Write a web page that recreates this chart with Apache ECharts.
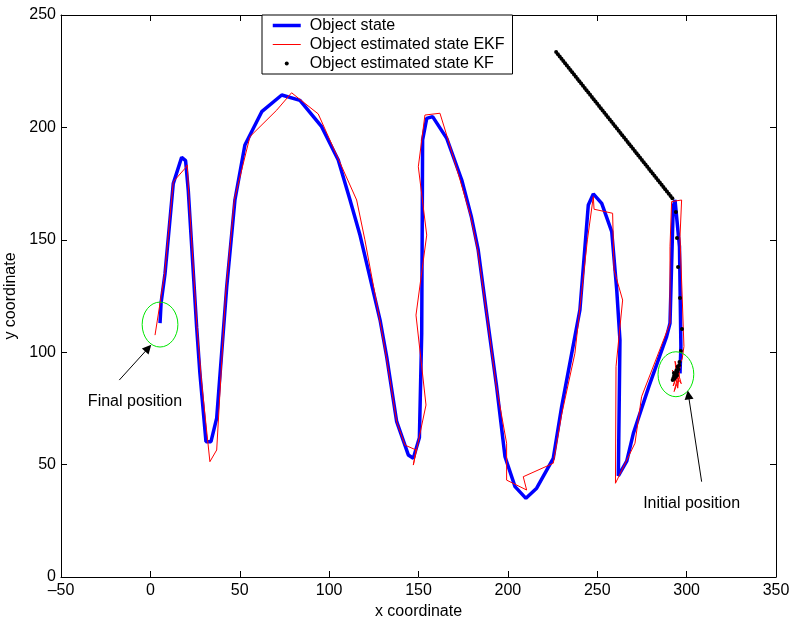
<!DOCTYPE html>
<html><head><meta charset="utf-8">
<script src="https://cdn.jsdelivr.net/npm/echarts@6/dist/echarts.min.js"></script>
<style>html,body{margin:0;padding:0;background:#fff}#c{width:792px;height:623px}</style>
</head><body><div id="c"></div>
<script>
// ---- axis ranges / ticks ----
const xRange = [-50, 350];
const xStep = 50;
const yRange = [0, 250];
const yStep = 50;

// ---- series names ----
const legendNames = ['Object state', 'Object estimated state EKF', 'Object estimated state KF'];

// ---- true object state (from initial to final position) ----
const objectState = [
  [296.3,90.6],[296.8,102.5],[296.0,146.9],[293.5,167.7],[292.5,164.7],[290.7,112.9],[288.8,106.9],
  [279.0,85.0],[270.2,63.9],[266.5,51.5],[261.8,45.0],[262.7,105.4],[260.9,127.7],[258.1,153.6],
  [252.5,166.2],[247.8,170.4],[245.0,165.5],[240.3,118.8],[230.1,75.8],[225.4,52.8],[216.1,39.5],
  [210.1,35.0],[204.0,40.2],[198.4,53.5],[193.7,84.7],[188.1,117.3],[183.4,145.5],[179.5,160.5],
  [174.2,176.6],[165.8,195.1],[157.9,204.8],[154.6,204.0],[152.3,194.4],[151.8,108.4],[150.5,62.0],
  [147.1,52.8],[144.3,54.3],[137.8,69.1],[132.2,98.0],[128.5,114.3],[117.3,152.0],[111.7,167.7],
  [105.1,185.5],[95.8,200.3],[83.7,212.0],[73.5,214.4],[62.3,207.0],[52.9,192.2],[47.3,167.7],
  [42.7,129.0],[37.1,70.7],[33.9,60.2],[31.1,60.2],[27.7,90.7],[25.9,111.0],[21.2,172.0],
  [19.7,185.2],[17.5,186.7],[12.8,175.0],[8.2,135.0],[6.0,122.0],[5.4,112.9]
];

// ---- EKF estimate ----
const ekfState = [
  [294.5,90],[292.5,85],[296.5,94],[293,82.5],[295.5,88],[292,92],[297,86],[293.5,96],[295,84],
  [296,91],[292.5,89],[297.5,97],
  [298.5,102.5],[297.5,125],[296.3,151.4],[297.2,167.7],[291.6,167],[290.7,147],[290.7,112.9],
  [274.8,80.2],[271.1,59.5],[260.2,41.7],[260.5,93.6],[264.2,123.2],[259.4,136.6],[258.6,161.8],
  [248.2,163.6],[247.8,169.2],[244.5,150],[237.5,99.5],[230,72],[225.4,50.6],[208.6,44.6],
  [210.5,38.7],[199.3,43.1],[199.3,59.5],[193.5,85],[188,118],[183,146],[179,161],[172,180],
  [166.6,194.4],[162,206.3],[153.6,205.5],[149.9,182.5],[154.6,152.1],[148.6,116.5],[154.2,76.5],
  [147.1,49.8],[148.6,56.5],[142.4,58.7],[137.8,69],[132,98],[127,120],[120,150],[115.4,167.7],
  [93.9,206],[79,215.4],[70.7,207.7],[55.7,195.9],[47,168],[42,125],[37.1,56.5],[33.3,51.3],
  [28.7,86.2],[26,112],[21.5,170],[20.6,183.3],[19.4,181.8],[12.8,175.8],[8,135],[2.6,107.6]
];

// ---- KF estimate (dots) ----
const kfState = [
  [294.8,91.2],[293.8,89],[292.6,88.5],[293,89.5],[293.5,90.5],[294.3,92],[295,93.5],[296,95.6],
  [292.2,87.6],[293.1,88.2],[294.1,90.1],[295.4,92.4],[292.9,90.8],[294.6,89.6],[295.8,94.2],
  [296.8,100.5],[297.4,110.3],[296.3,124.1],[295.2,137.9],[294.6,150.8],[294,162.4],
  [292,168.5],[291,169.5],[290,170.5],[289,171.5],[288,172.5],[287,173.5],[286,174.5],[285,175.5],
  [284,176.5],[283,177.5],[282,178.5],[281,179.5],[280,180.5],[279,181.5],[278,182.5],[277,183.5],
  [276,184.5],[275,185.5],[274,186.5],[273,187.5],[272,188.5],[271,189.5],[270,190.5],[269,191.5],
  [268,192.5],[267,193.5],[266,194.5],[265,195.5],[264,196.5],[263,197.5],[262,198.5],[261,199.5],
  [260,200.5],[259,201.5],[258,202.5],[257,203.5],[256,204.5],[255,205.5],[254,206.5],[253,207.5],
  [252,208.5],[251,209.5],[250,210.5],[249,211.5],[248,212.5],[247,213.5],[246,214.5],[245,215.5],
  [244,216.5],[243,217.5],[242,218.5],[241,219.5],[240,220.5],[239,221.5],[238,222.5],[237,223.5],
  [236,224.5],[235,225.5],[234,226.5],[233,227.5],[232,228.5],[231,229.5],[230,230.5],[229,231.5],
  [228,232.5],[227,233.5]
];

// ---- annotations ----
const circleCenters = [[5.4,112.3],[294,90.2]];
const circleRadius = 10;
const annotationText = ['Final position', 'Initial position'];
const annotationPos = [[-8.6,78],[302.8,32.5]];
const arrowFrom = [[-17.4,87.6],[308.4,42.4]];
const arrowTo = [[-1.2,101.8],[301,81]];

const FONT = '"Liberation Sans", Arial, Helvetica, sans-serif';
const fmt = v => (v < 0 ? '\u2013' + Math.abs(v) : String(v));

const chart = echarts.init(document.getElementById('c'), null, {renderer: 'canvas'});

function axisBase(range, step) {
  return {
    type: 'value', min: range[0], max: range[1], interval: step,
    axisLine: {show: true, onZero: false, lineStyle: {color: '#000', width: 1}},
    axisTick: {show: true, inside: true, length: 6, lineStyle: {color: '#000', width: 1}},
    splitLine: {show: false}
  };
}

const option = {
  animation: false,
  backgroundColor: '#fff',
  grid: {left: 61, top: 15, width: 715, height: 562, containLabel: false, outerBoundsMode: 'none'},
  xAxis: [
    Object.assign(axisBase(xRange, xStep), {
      position: 'bottom',
      axisLabel: {color: '#000', fontSize: 16, fontFamily: FONT, margin: 6, formatter: fmt},
      name: 'x coordinate', nameLocation: 'middle', nameGap: 21,
      nameTextStyle: {color: '#000', fontSize: 16, fontFamily: FONT}
    }),
    Object.assign(axisBase(xRange, xStep), {position: 'top', axisLabel: {show: false}})
  ],
  yAxis: [
    Object.assign(axisBase(yRange, yStep), {
      position: 'left',
      axisLabel: {color: '#000', fontSize: 16, fontFamily: FONT, margin: 5, formatter: fmt},
      name: 'y coordinate', nameLocation: 'middle', nameGap: 36,
      nameTextStyle: {color: '#000', fontSize: 16, fontFamily: FONT}
    }),
    Object.assign(axisBase(yRange, yStep), {position: 'right', axisLabel: {show: false}})
  ],
  legend: {
    left: 262, top: 15, orient: 'vertical',
    backgroundColor: '#fff', borderColor: '#000', borderWidth: 1, borderRadius: 0,
    padding: [1, 8, 1, 9],
    itemWidth: 28, itemHeight: 4, itemGap: 0,
    selectedMode: false,
    textStyle: {color: '#000', fontSize: 16, fontFamily: FONT, lineHeight: 19, padding: [0, 0, 0, 4]},
    data: [
      {name: legendNames[0], itemStyle: {opacity: 0}, lineStyle: {color: '#0000ff', width: 3.5}},
      {name: legendNames[1], itemStyle: {opacity: 0}, lineStyle: {color: '#ff0000', width: 1}},
      {name: legendNames[2]}
    ]
  },
  series: [
    {
      name: legendNames[0], type: 'line', data: objectState, xAxisIndex: 0, yAxisIndex: 0,
      symbol: 'none', showSymbol: false, smooth: false,
      lineStyle: {color: '#0000ff', width: 3.5}, itemStyle: {color: '#0000ff'}, z: 2
    },
    {
      name: legendNames[1], type: 'line', data: ekfState, xAxisIndex: 0, yAxisIndex: 0,
      symbol: 'none', showSymbol: false, smooth: false,
      lineStyle: {color: '#ff0000', width: 1}, itemStyle: {color: '#ff0000'}, z: 3
    },
    {
      name: legendNames[2], type: 'scatter', data: kfState, xAxisIndex: 0, yAxisIndex: 0,
      symbol: 'circle', symbolSize: 4, itemStyle: {color: '#000', opacity: 1}, z: 4
    },
    {
      name: 'circles', type: 'custom', xAxisIndex: 0, yAxisIndex: 0, z: 5, silent: true,
      data: circleCenters.map(c => [c[0], c[1], circleRadius]),
      renderItem: (params, api) => {
        const c = api.coord([api.value(0), api.value(1)]);
        const s = api.size([api.value(2), api.value(2)]);
        return {type: 'ellipse', shape: {cx: c[0], cy: c[1], rx: s[0], ry: s[1]},
                style: {fill: 'none', stroke: '#00e600', lineWidth: 1}};
      }
    },
    {
      name: 'arrows', type: 'lines', coordinateSystem: 'cartesian2d', xAxisIndex: 0, yAxisIndex: 0,
      z: 6, silent: true, symbol: ['none', 'triangle'], symbolSize: 9,
      lineStyle: {color: '#000', width: 1, opacity: 1, curveness: 0},
      data: arrowFrom.map((f, i) => ({coords: [f, arrowTo[i]]}))
    },
    {
      name: 'labels', type: 'scatter', xAxisIndex: 0, yAxisIndex: 0, z: 7, silent: true,
      symbolSize: 0, itemStyle: {opacity: 1, color: '#000'},
      data: annotationPos.map((p, i) => ({value: p, name: annotationText[i]})),
      label: {show: true, position: 'inside', formatter: '{b}', color: '#000', opacity: 1, fontSize: 16,
               fontFamily: FONT, textBorderWidth: 0, textBorderColor: 'transparent'}
    }
  ]
};
chart.setOption(option);
</script></body></html>
